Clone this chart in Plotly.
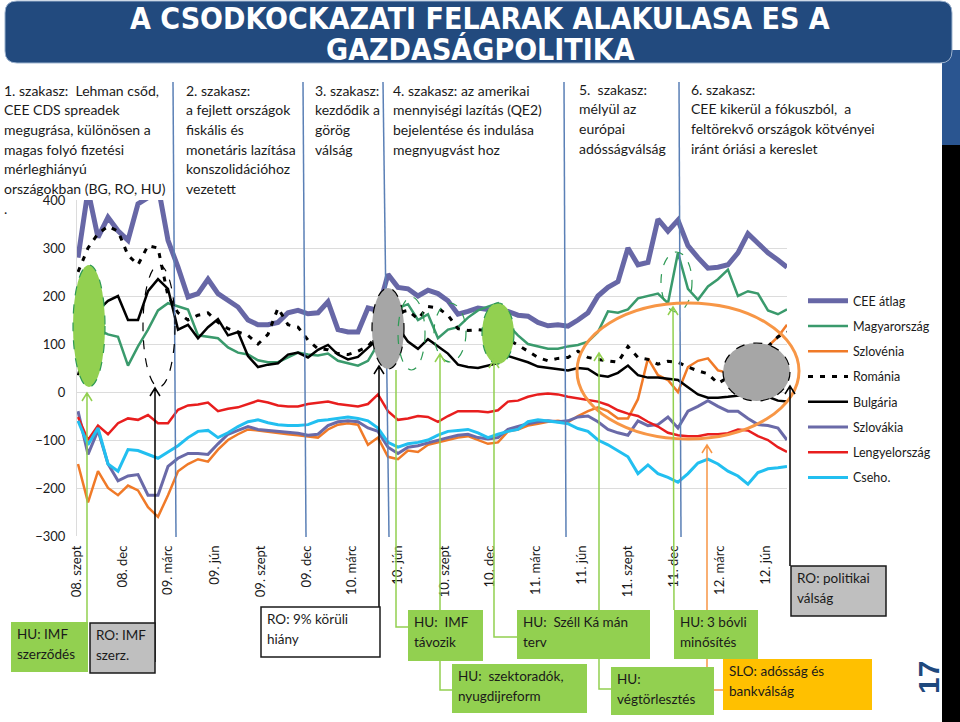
import plotly.graph_objects as go
import pandas as pd

# ---------------- data ----------------
dates = list(pd.date_range("2008-09-03", "2012-06-25", periods=71)) + [pd.Timestamp("2012-07-13")]

cee_atlag = [280, 420, 322, 364, 336, 316, 392, 405, 430, 316,
             260, 198, 205, 235, 205, 191, 177, 150, 140, 140,
             145, 165, 170, 163, 165, 188, 130, 125, 125, 175,
             170, 245, 218, 215, 200, 212, 205, 190, 162, 168,
             175, 172, 170, 168, 160, 158, 145, 138, 140, 137,
             150, 165, 200, 218, 230, 300, 265, 270, 360, 335,
             358, 305, 280, 258, 260, 265, 290, 330, 310, 290,
             275, 260]
magyarorszag = [120, 125, 130, 120, 115, 55, 95, 130, 170, 185,
                178, 172, 118, 115, 112, 93, 82, 78, 66, 62,
                62, 72, 82, 78, 76, 80, 65, 60, 55, 65,
                100, 150, 175, 183, 150, 162, 112, 130, 135, 155,
                170, 178, 185, 140, 118, 100, 95, 90, 90, 95,
                98, 105, 125, 168, 165, 172, 195, 200, 205, 185,
                290, 215, 192, 220, 235, 255, 200, 210, 205, 170,
                162, 172]
szlovenia = [-150, -230, -165, -200, -215, -195, -205, -240, -260, -215,
             -165, -150, -140, -145, -120, -100, -88, -78, -80, -83,
             -86, -88, -90, -92, -95, -78, -68, -65, -68, -110,
             -95, -135, -140, -122, -125, -110, -105, -100, -95, -92,
             -100, -108, -105, -82, -78, -70, -66, -62, -60, -63,
             -50, -40, -32, -40, -55, -55, -15, 70, 35, 25,
             0, 52, 65, 70, 45, 40, 50, 60, 75, 95,
             115, 140]
romania = [250, 300, 330, 345, 335, 285, 265, 305, 300, 200,
           165, 150, 160, 165, 145, 132, 125, 118, 100, 120,
           175, 140, 135, 108, 90, 88, 80, 78, 85, 95,
           120, 150, 165, 170, 152, 178, 175, 160, 132, 128,
           130, 128, 125, 110, 98, 85, 72, 65, 70, 72,
           85, 72, 68, 65, 62, 95, 72, 68, 58, 64,
           62, 52, 44, 38, 18, 30, 40, 50, 70, 95,
           115, 125]
bulgaria = [35, 100, 170, 190, 200, 150, 150, 210, 235, 215,
            130, 140, 112, 135, 152, 118, 125, 75, 52, 57,
            60, 78, 82, 72, 88, 98, 78, 68, 73, 92,
            110, 140, 135, 105, 90, 110, 95, 80, 57, 52,
            50, 55, 60, 75, 68, 62, 53, 50, 47, 45,
            50, 48, 35, 32, 40, 55, 35, 30, 30, 28,
            25, 10, -5, -12, -12, -10, -8, -5, -8, -10,
            -18, -20]
szlovakia = [-40, -130, -80, -150, -185, -175, -172, -215, -215, -155,
             -138, -128, -128, -130, -108, -88, -80, -72, -78, -80,
             -83, -85, -86, -90, -88, -70, -62, -60, -62, -75,
             -82, -115, -128, -115, -112, -106, -100, -95, -90, -88,
             -95, -98, -95, -78, -72, -66, -62, -60, -62, -60,
             -52, -50, -62, -78, -85, -90, -60, -70, -68, -52,
             -75, -40, -30, -18, -30, -40, -40, -55, -68, -70,
             -75, -100]
lengyelorszag = [-52, -100, -70, -88, -65, -55, -58, -48, -65, -65,
                 -37, -28, -26, -22, -40, -35, -32, -25, -18, -22,
                 -28, -30, -30, -25, -22, -20, -25, -28, -30, -25,
                 -5, -40, -58, -55, -50, -52, -62, -50, -40, -40,
                 -40, -42, -38, -20, -18, -10, -5, -3, -5, -10,
                 -13, -16, -20, -27, -38, -45, -50, -62, -72, -85,
                 -90, -92, -92, -88, -88, -86, -78, -80, -92, -100,
                 -115, -125]
cseho = [-60, -110, -75, -150, -165, -120, -122, -130, -138, -125,
         -112, -95, -82, -80, -95, -85, -72, -62, -58, -64,
         -68, -70, -70, -68, -60, -58, -55, -52, -55, -60,
         -75, -105, -115, -108, -105, -100, -90, -82, -80, -78,
         -85, -95, -88, -82, -78, -62, -58, -60, -63, -66,
         -76, -82, -100, -110, -122, -135, -170, -152, -170, -178,
         -188, -170, -148, -140, -150, -165, -175, -192, -168, -160,
         -158, -155]

tick_dates = ["2008-09-01", "2008-12-01", "2009-03-01", "2009-06-01", "2009-09-01",
              "2009-12-01", "2010-03-01", "2010-06-01", "2010-09-01", "2010-12-01",
              "2011-03-01", "2011-06-01", "2011-09-01", "2011-12-01", "2012-03-01",
              "2012-06-01"]
tick_labels = ["08. szept", "08. dec", "09. márc", "09. jún", "09. szept", "09. dec",
               "10. márc", "10. jún", "10. szept", "10. dec", "11. márc", "11. jún",
               "11. szept", "11. dec", "12. márc", "12. jún"]

series = [
    ("CEE átlag", cee_atlag, "#6767A6", 5, "solid"),
    ("Magyarország", magyarorszag, "#3A9A6C", 2.5, "solid"),
    ("Szlovénia", szlovenia, "#F07A28", 2.5, "solid"),
    ("Románia", romania, "#000000", 3, "5px,7px"),
    ("Bulgária", bulgaria, "#000000", 2.5, "solid"),
    ("Szlovákia", szlovakia, "#6A6AA8", 3, "solid"),
    ("Lengyelország", lengyelorszag, "#E81E1E", 2.5, "solid"),
    ("Cseho.", cseho, "#22BFF0", 3, "solid"),
]

FONT = "Lato, Carlito, Calibri, sans-serif"

fig = go.Figure()
for name, vals, col, w, dash in series:
    fig.add_trace(go.Scatter(x=dates, y=vals, name=name, mode="lines", legendgroup=name,
                             line=dict(color=col, width=w, dash=dash)))

# ---------------- geometry helpers (pixels -> paper) ----------------
L, R, T, B = 77, 787, 200, 536
def X(px):
    return (px - L) / (R - L)
def Y(py):
    return (B - py) / (B - T)

shapes = []
annotations = []

def rect(x0, y0, x1, y1, fill, border=None, bw=1.5, layer="above"):
    shapes.append(dict(type="rect", xref="paper", yref="paper", x0=X(x0), x1=X(x1),
                       y0=Y(y1), y1=Y(y0), fillcolor=fill, layer=layer,
                       line=dict(color=border if border else fill, width=bw if border else 0)))

def ellipse(x0, y0, x1, y1, fill=None, color="#000", width=1.2, dash="dash"):
    shapes.append(dict(type="circle", xref="paper", yref="paper", x0=X(x0), x1=X(x1),
                       y0=Y(y1), y1=Y(y0), fillcolor=fill if fill else "rgba(0,0,0,0)",
                       layer="above", line=dict(color=color, width=width, dash=dash)))

def arrow(pts, color, head=True, width=1.5):
    d = "M " + " L ".join(f"{X(px):.5f},{Y(py):.5f}" for px, py in pts)
    if head:
        tx, ty = pts[-1]
        d += f" M {X(tx-5):.5f},{Y(ty+8):.5f} L {X(tx):.5f},{Y(ty):.5f} L {X(tx+5):.5f},{Y(ty+8):.5f}"
    shapes.append(dict(type="path", xref="paper", yref="paper", path=d, layer="above",
                       line=dict(color=color, width=width)))

def vline(x0, y0, x1, y1, color="#5B80B6", width=1.5):
    shapes.append(dict(type="line", xref="paper", yref="paper", x0=X(x0), x1=X(x1),
                       y0=Y(y0), y1=Y(y1), layer="above", line=dict(color=color, width=width)))

def text_lines(px, py, lines, size=14, step=19.7, color="#1a1a1a"):
    for k, t in enumerate(lines):
        annotations.append(dict(x=X(px), y=Y(py + k * step), xref="paper", yref="paper",
                                text=t, showarrow=False, xanchor="left", yanchor="middle",
                                font=dict(family=FONT, size=size, color=color)))

# ---------------- title / frame ----------------
rect(942, 145, 960, 722, "#000000", layer="below")
rect(942, 50, 960, 145, "#2A5590", layer="below")
tb = "M {a},{b} L {c},{b} Q {r},{b} {r},{e} L {r},{f} Q {r},{g} {c},{g} L {a},{g} Q {l},{g} {l},{f} L {l},{e} Q {l},{b} {a},{b} Z".format(
    a=f"{X(17):.5f}", c=f"{X(940):.5f}", r=f"{X(952):.5f}", l=f"{X(5):.5f}",
    b=f"{Y(1):.5f}", e=f"{Y(13):.5f}", f=f"{Y(51):.5f}", g=f"{Y(63):.5f}")
shapes.append(dict(type="path", xref="paper", yref="paper", path=tb, fillcolor="#224A7E",
                   line=dict(color="#9DB3CF", width=1), layer="below"))
TFONT = "DejaVu Sans Condensed, Liberation Sans Narrow, Arial Narrow, sans-serif"
for ty, t in [(19, "A CSODKOCKAZATI FELARAK ALAKULASA ES A"), (49, "GAZDASÁGPOLITIKA")]:
    annotations.append(dict(x=X(480), y=Y(ty), xref="paper", yref="paper", text="<b>" + t + "</b>",
                            showarrow=False, xanchor="center", yanchor="middle",
                            font=dict(family=TFONT, size=30, color="white")))
annotations.append(dict(x=X(928), y=Y(678), xref="paper", yref="paper", text="<b>17</b>",
                        showarrow=False, textangle=-90, xanchor="center", yanchor="middle",
                        font=dict(family="Liberation Sans, Arial, sans-serif", size=30, color="#1F497D")))

# ---------------- phase separators ----------------
for xt, xb in [(173, 176), (303, 306), (383, 389), (564, 566), (679, 681)]:
    vline(xt, 82, xb, 537)

# ---------------- top phase texts ----------------
text_lines(2, 90, ["1. szakasz:  Lehman csőd,", "CEE CDS spreadek", "megugrása, különösen a",
                   "magas folyó fizetési", "mérleghiányú", "országokban (BG, RO, HU)", "."])
text_lines(184, 90, ["2. szakasz:", "a fejlett országok", "fiskális és", "monetáris lazítása",
                     "konszolidációhoz", "vezetett"])
text_lines(313, 90, ["3. szakasz:", "kezdődik a", "görög", "válság"])
text_lines(391, 90, ["4. szakasz: az amerikai", "mennyiségi lazítás (QE2)",
                     "bejelentése és indulása", "megnyugvást hoz"])
text_lines(577, 89, ["5.  szakasz:", "mélyül az", "európai", "adósságválság"])
text_lines(689, 89, ["6. szakasz:", "CEE kikerül a fókuszból,  a", "feltörekvő országok kötvényei",
                     "iránt óriási a kereslet"])

# ---------------- ellipses ----------------
GREEN = "#92D050"
DGREEN = "#2E9A55"
ellipse(73, 265, 105, 387, fill=GREEN, color=DGREEN)
ellipse(143, 265, 175, 387, color="#000000")
ellipse(372, 288, 404, 369, fill="#A6A6A6", color="#000000")
ellipse(398, 297, 425, 370, color=DGREEN)
ellipse(434, 303, 466, 362, color=DGREEN)
ellipse(482, 303, 514, 364, fill=GREEN, color=DGREEN)
ellipse(661, 252, 692, 312, color=DGREEN)
ellipse(577, 303, 799, 439, color="#F79646", width=3, dash="solid")
ellipse(723, 343, 790, 401, fill="#A6A6A6", color="#000000")

# ---------------- arrows ----------------
arrow([(87, 622), (87, 393)], GREEN)
arrow([(155, 662), (155, 388)], "#000000")
arrow([(379, 608), (379, 366)], "#000000")
arrow([(408, 627), (396, 627), (396, 370)], GREEN, head=False)
arrow([(452, 690), (440, 690), (440, 354)], GREEN)
arrow([(517, 637), (494, 637), (494, 360)], GREEN)
arrow([(611, 689), (599, 689), (599, 353)], GREEN)
arrow([(674, 610), (673, 307)], GREEN)
arrow([(723, 690), (707, 690), (707, 445)], "#F79646")
arrow([(790, 566), (790, 386)], "#000000")

# ---------------- event boxes ----------------
def box(x0, y0, x1, y1, fill, border, lines):
    rect(x0, y0, x1, y1, fill, border)
    text_lines(x0 + 4, y0 + 12, lines, size=13.5, step=19.5)

box(11, 622, 88, 672, GREEN, None, ["HU: IMF", "szerződés"])
box(90, 623, 155, 673, "#BFBFBF", "#1a1a1a", ["RO: IMF", "szerz."])
box(261, 607, 380, 657, "#FFFFFF", "#1a1a1a", ["RO: 9% körüli", "hiány"])
box(408, 610, 483, 661, GREEN, None, ["HU:  IMF", "távozik"])
box(452, 664, 587, 713, GREEN, None, ["HU:  szektoradók,", "nyugdijreform"])
box(517, 610, 650, 659, GREEN, None, ["HU:  Széll Ká mán", "terv"])
box(611, 667, 714, 715, GREEN, None, ["HU:", "végtörlesztés"])
box(674, 610, 758, 659, GREEN, None, ["HU: 3 bóvli", "minősítés"])
box(723, 659, 872, 710, "#FFC000", None, ["SLO: adósság és", "bankválság"])
box(791, 566, 886, 616, "#BFBFBF", "#1a1a1a", ["RO: politikai", "válság"])

fig.update_layout(
    width=960, height=722,
    margin=dict(l=L, r=960 - R, t=T, b=722 - B, pad=0),
    paper_bgcolor="white", plot_bgcolor="white",
    font=dict(family=FONT, size=13, color="#1a1a1a"),
    showlegend=True,
    legend=dict(x=X(803), y=Y(286), xanchor="left", yanchor="top",
                font=dict(family=FONT, size=12.5, color="#1a1a1a"),
                tracegroupgap=6, bgcolor="rgba(0,0,0,0)", itemwidth=40),
    shapes=shapes, annotations=annotations,
    xaxis=dict(type="date", range=["2008-09-01", "2012-07-13"], tickvals=tick_dates,
               ticktext=tick_labels, tickangle=-90, showgrid=False, zeroline=False,
               showline=False, ticks="", ticklabelstandoff=6,
               tickfont=dict(family=FONT, size=13, color="#1a1a1a")),
    yaxis=dict(range=[-300, 400], dtick=100, showgrid=True, gridcolor="#DCDCDC", gridwidth=1,
               zeroline=False, showline=True, linecolor="#DCDCDC", ticks="",
               ticklabelstandoff=8, tickfont=dict(family=FONT, size=13, color="#1a1a1a")),
)

fig.write_html("out.html")
